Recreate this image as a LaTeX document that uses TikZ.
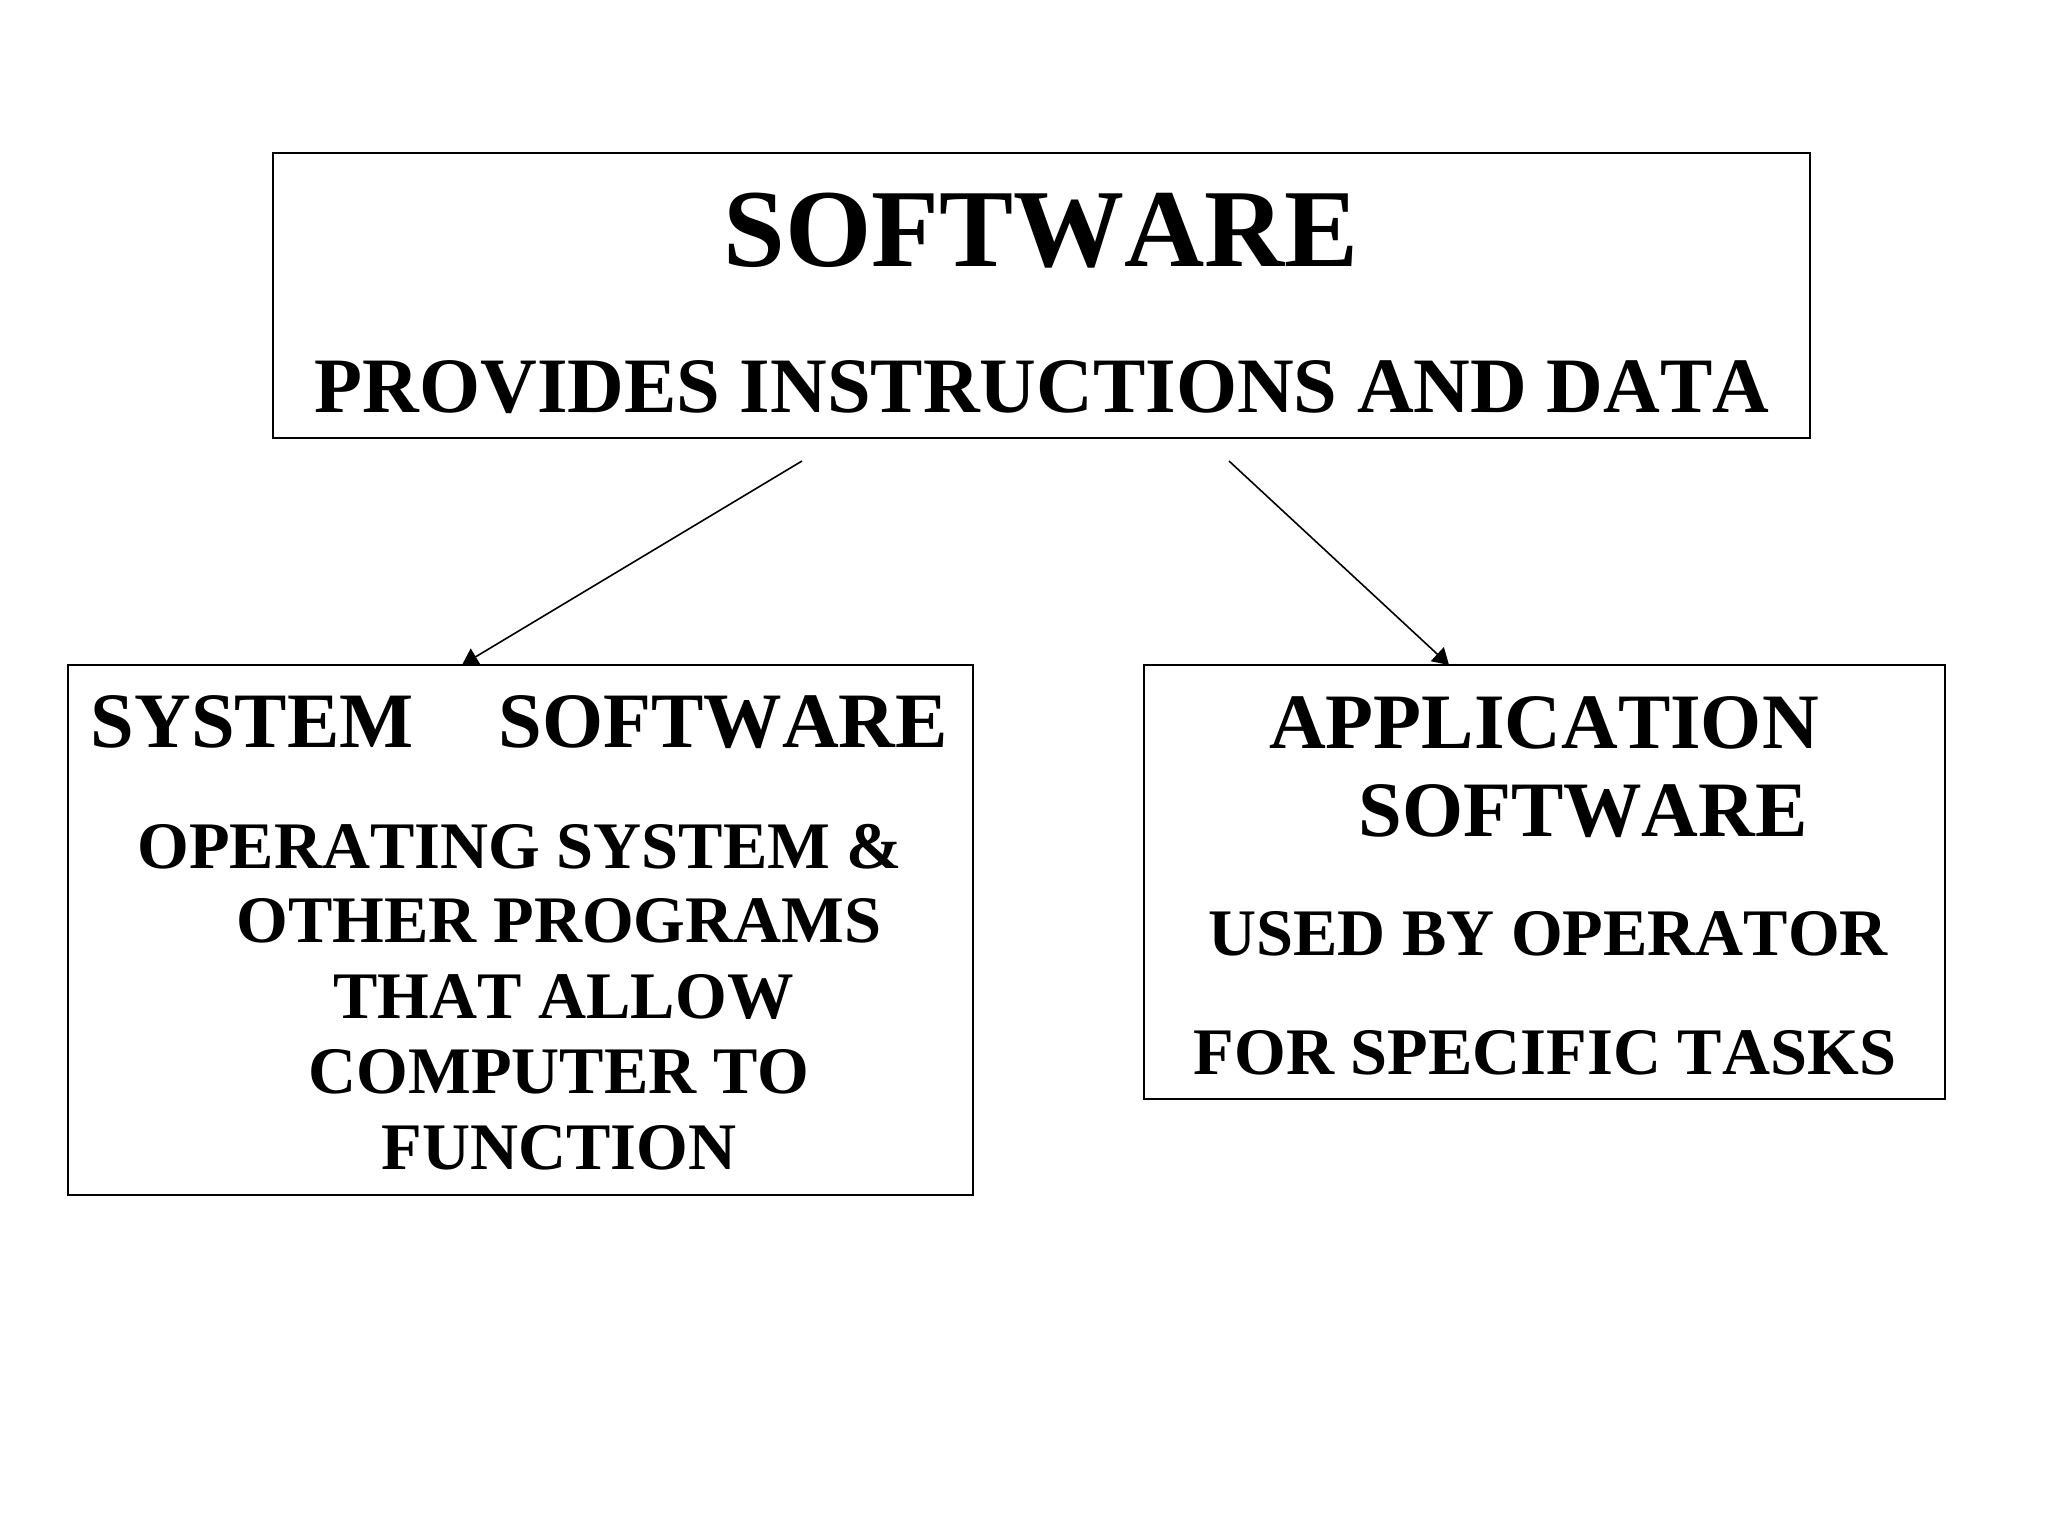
\documentclass[tikz,border=0pt]{standalone}
\usepackage{fontspec}
\setmainfont{Liberation Serif}[Kerning=Off]
\usetikzlibrary{arrows.meta}
\tikzset{
  boxn/.style={draw=black, line width=2pt, inner sep=0pt, outer sep=0pt},
  tbig/.style={inner sep=0pt, anchor=base, font=\fontsize{111pt}{111pt}\selectfont\bfseries},
  thead/.style={inner sep=0pt, anchor=base, font=\fontsize{78.5pt}{78.5pt}\selectfont\bfseries},
  tbody/.style={inner sep=0pt, anchor=base, font=\fontsize{66.5pt}{66.5pt}\selectfont\bfseries},
  arr/.style={-{Triangle[length=16pt,width=19pt]}, line width=1.6pt}
}
\begin{document}
\begin{tikzpicture}[x=1pt,y=-1pt]
\path[use as bounding box, fill=white] (0,0) rectangle (2048,1536);

% boxes
\node[boxn, minimum width=1537pt, minimum height=285pt] (top) at (1041.5,295.5) {};
\node[boxn, minimum width=905pt, minimum height=530pt] (sys) at (520.5,930) {};
\node[boxn, minimum width=801pt, minimum height=434pt] (app) at (1544.5,882) {};

% top texts
\node[tbig] (t1) at (1041,266) {SOFTWARE};
\node[thead] (t2) at (1042,412) {PROVIDES INSTRUCTIONS AND DATA};

% system software texts
\node[thead] (s0) at (519.5,747.5) {SYSTEM\hspace{85pt}SOFTWARE};
\node[tbody] (s1) at (520,868) {OPERATING SYSTEM \&};
\node[tbody] (s2) at (559,942) {OTHER PROGRAMS};
\node[tbody] (s3) at (563.5,1018) {THAT ALLOW};
\node[tbody] (s4) at (559,1093) {COMPUTER TO};
\node[tbody] (s5) at (559,1169) {FUNCTION};

% application software texts
\node[thead] (a0) at (1544,748) {APPLICATION};
\node[thead] (a1) at (1583,836) {SOFTWARE};
\node[tbody] (a2) at (1548,955) {USED BY OPERATOR};
\node[tbody] (a3) at (1545,1074) {FOR SPECIFIC TASKS};

% connectors
\coordinate (c1) at (802,461);
\coordinate (c2) at (1229,461);
\draw[arr] (c1) -- ([xshift=394pt]sys.north west);
\draw[arr] (c2) -- ([xshift=305pt]app.north west);
\end{tikzpicture}
\end{document}
